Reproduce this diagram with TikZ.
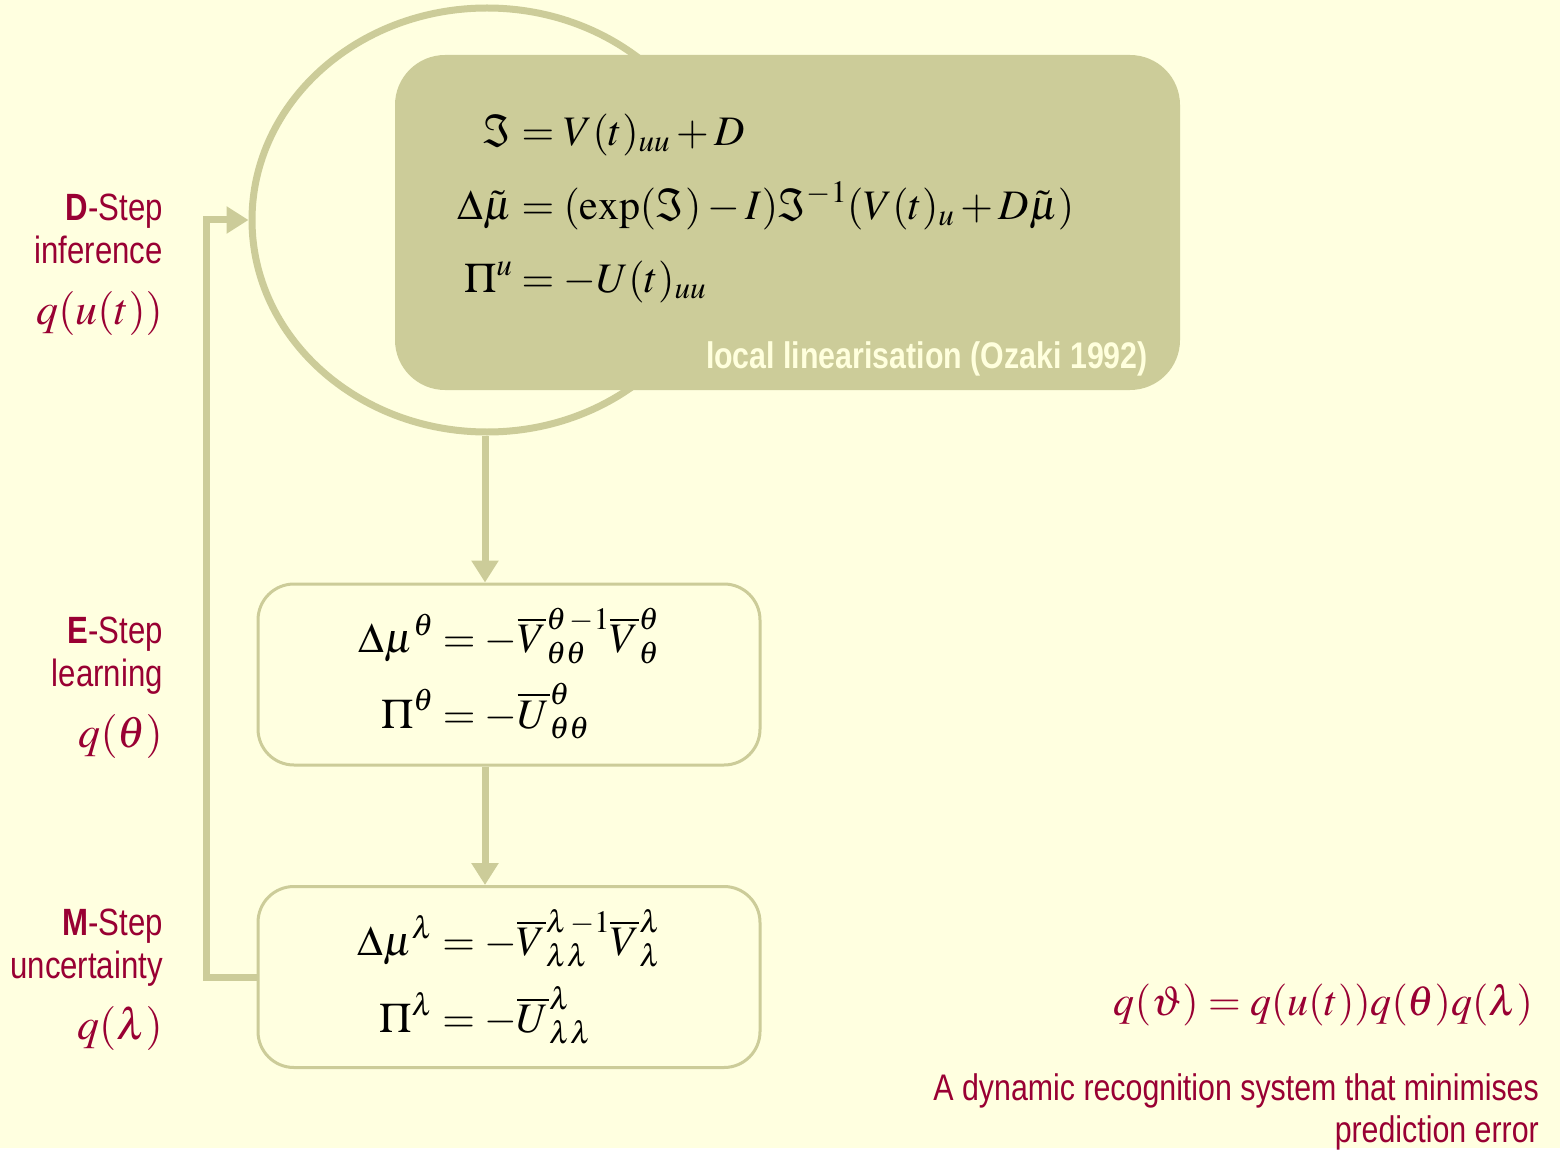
\documentclass[tikz,border=0pt]{standalone}
\usepackage{amsmath}
\usepackage{mathptmx}
\usepackage{fontspec}
\setmainfont{Liberation Serif}
\setsansfont{Liberation Sans}[FakeStretch=0.82]
\usetikzlibrary{arrows.meta,positioning,shapes.geometric,calc}
\definecolor{paper}{HTML}{FFFFE0}
\definecolor{sage}{HTML}{CCCC99}
\definecolor{wine}{HTML}{990033}
\definecolor{cream}{HTML}{FFFFDD}
\tikzset{
  base/.style={font=\sffamily\fontsize{38}{43}\selectfont, text=wine},
  steplabel/.style={base, align=right, anchor=north east, inner sep=0pt},
  ring/.style={ellipse, draw=sage, line width=7pt, minimum width=470pt, minimum height=424pt, inner sep=0pt},
  panel/.style={rounded corners=50pt, fill=sage, minimum width=785pt, minimum height=335pt},
  mathbox/.style={rounded corners=36pt, draw=sage, line width=3pt, fill=paper, minimum width=502pt, minimum height=181pt},
  eqn/.style={font=\fontsize{42}{54}\selectfont, inner sep=0pt},
  flow/.style={-{Triangle[length=22pt,width=26pt]}, line width=7pt, draw=sage},
  caption/.style={base, align=right, inner sep=0pt},
}

\begin{document}
\begin{tikzpicture}[x=1pt,y=-1pt]
  \fill[paper] (0,0) rectangle (1560,1148);

  % D-step: ring behind the filled panel
  \node[ring] (ring) at (487,220) {};
  \node[panel] (dbox) at (787.5,222.5) {};
  \node[eqn] (deqn) at (766,208) {$\begin{aligned}
    \Im &= V(t)_{uu} + D\\[16pt]
    \Delta\tilde{\mu} &= (\exp(\Im) - I)\Im^{-1}(V(t)_{u} + D\tilde{\mu})\\[16pt]
    \Pi^{u} &= -U(t)_{uu}
  \end{aligned}$};
  \node[base, font=\sffamily\bfseries\fontsize{37}{40}\selectfont, text=cream, anchor=base east, inner sep=0pt] (ozaki) at (1148,368) {local linearisation (Ozaki 1992)};

  % E-step and M-step
  \node[mathbox] (ebox) at (509,674.5) {};
  \node[eqn] (eeqn) at (509,676) {$\begin{aligned}
    \Delta\mu^{\theta} &= -\overline{V}^{\theta\,-1}_{\theta\theta}\overline{V}^{\theta}_{\theta}\\[10pt]
    \Pi^{\theta} &= -\overline{U}^{\theta}_{\theta\theta}
  \end{aligned}$};
  \node[mathbox] (mbox) at (509,977) {};
  \node[eqn] (meqn) at (509,979) {$\begin{aligned}
    \Delta\mu^{\lambda} &= -\overline{V}^{\lambda\,-1}_{\lambda\lambda}\overline{V}^{\lambda}_{\lambda}\\[10pt]
    \Pi^{\lambda} &= -\overline{U}^{\lambda}_{\lambda\lambda}
  \end{aligned}$};

  \draw[flow] (ring.south -| 485,0) -- (485,0 |- ebox.north);
  \draw[flow] (ebox.south -| 485,0) -- (485,0 |- mbox.north);
  \draw[flow] (mbox.west) -- ++(-50,0) |- (ring.west);

  % step labels
  \node[steplabel] (dlabel) at (163,194) {\textbf{D}-Step\\inference\\[18pt]{\fontsize{44}{50}\selectfont$q(u(t))$}};
  \node[steplabel] (elabel) at (163,617) {\textbf{E}-Step\\learning\\[18pt]{\fontsize{44}{50}\selectfont$q(\theta)$}};
  \node[steplabel] (mlabel) at (163,909) {\textbf{M}-Step\\uncertainty\\[18pt]{\fontsize{44}{50}\selectfont$q(\lambda)$}};

  \node[caption, font=\fontsize{42}{50}\selectfont, anchor=east] (qall) at (1533,1005) {$q(\vartheta) = q(u(t))q(\theta)q(\lambda)$};
  \node[caption, font=\sffamily\fontsize{37}{42}\selectfont, anchor=north east] (summary) at (1539,1073) {A dynamic recognition system that minimises\\prediction error};
\end{tikzpicture}
\end{document}
